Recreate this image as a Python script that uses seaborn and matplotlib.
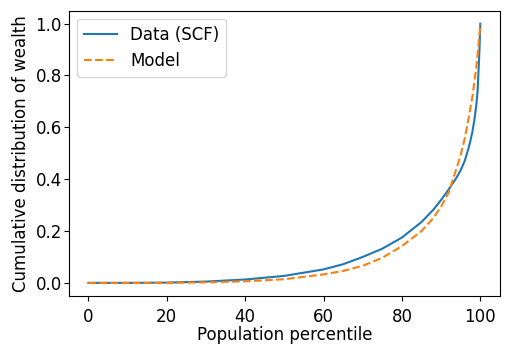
import matplotlib
matplotlib.use("Agg")
import matplotlib.pyplot as plt
import seaborn as sns
import pandas as pd

percentile_data = [0, 10, 20, 30, 40, 50, 60, 65, 70, 75, 80, 85, 88, 90, 92, 94, 95, 96, 97, 97.5, 98, 98.5, 99, 99.3, 99.6, 99.8, 100]
data_scf = [0.0, 0.0, 0.001, 0.005, 0.013, 0.027, 0.052, 0.072, 0.100, 0.132, 0.175, 0.235, 0.282, 0.32, 0.362, 0.408, 0.435, 0.47, 0.52, 0.55, 0.585, 0.63, 0.69, 0.74, 0.837, 0.91, 1.0]

percentile_model = [0, 10, 20, 30, 40, 50, 60, 65, 70, 75, 80, 85, 88, 90, 92, 93, 94, 95, 96, 97, 98, 99, 99.5, 100]
model = [0.0, 0.0, 0.0, 0.002, 0.006, 0.014, 0.033, 0.046, 0.066, 0.097, 0.142, 0.20, 0.25, 0.295, 0.35, 0.40, 0.445, 0.495, 0.555, 0.635, 0.72, 0.837, 0.91, 1.0]

df = pd.DataFrame({
    "x": percentile_data + percentile_model,
    "y": data_scf + model,
    "series": ["Data (SCF)"] * len(percentile_data) + ["Model"] * len(percentile_model),
})

plt.rcParams["font.size"] = 12
fig = plt.figure(figsize=(5.06, 3.44), dpi=100)
ax = fig.add_axes([0.136, 0.140, 0.852, 0.829])
sns.lineplot(data=df, x="x", y="y", hue="series", style="series",
             palette=["#1f77b4", "#ff7f0e"], dashes=[(None, None), (3.7, 1.6)],
             linewidth=1.5, ax=ax)
ax.set_xlim(-5, 105)
ax.set_ylim(-0.05, 1.05)
ax.set_xticks([0, 20, 40, 60, 80, 100])
ax.set_yticks([0.0, 0.2, 0.4, 0.6, 0.8, 1.0])
ax.tick_params(axis="x", length=3.5, pad=5)
ax.tick_params(axis="y", length=3.5, pad=1.5)
ax.set_xlabel("Population percentile")
ax.xaxis.set_label_coords(0.5, -0.106)
ax.set_ylabel("Cumulative distribution of wealth")
ax.legend(title=None, loc="upper left", fontsize=12)
fig.savefig("out.png", dpi=100)
